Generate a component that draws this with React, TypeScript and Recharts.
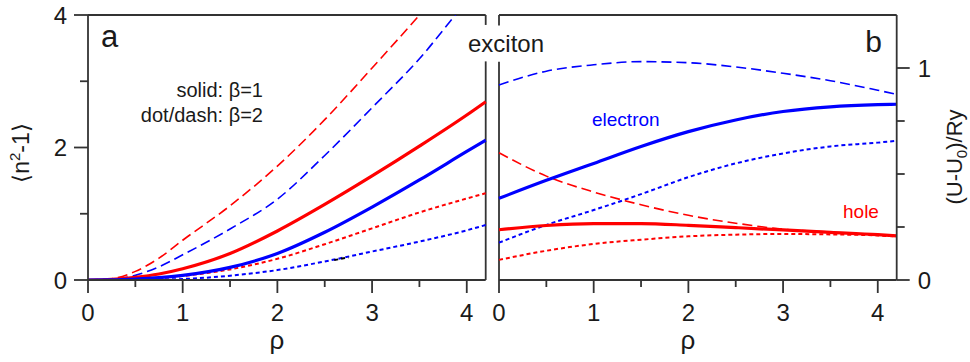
import React from "react";
import { LineChart, Line, XAxis, YAxis, ReferenceLine } from "recharts";

const RED = "#ff0000";
const BLUE = "#0000ff";
const FRAME = "#333333";
const INK = "#1a1a1a";
const FONT = '"Liberation Sans", Arial, Helvetica, sans-serif';

// panel a: <n^2-1> against rho
const rhoA = [0, 0.25, 0.5, 0.75, 1, 1.5, 2, 2.5, 3, 3.5, 4, 4.2];
const aRedSolid = [0, 0.01, 0.04, 0.09, 0.17, 0.4, 0.74, 1.14, 1.57, 2.02, 2.49, 2.69];
const aBlueSolid = [0, 0.003, 0.015, 0.035, 0.07, 0.19, 0.4, 0.72, 1.1, 1.51, 1.94, 2.11];
const aRedDot = [0, 0.002, 0.01, 0.025, 0.06, 0.16, 0.32, 0.54, 0.78, 1.02, 1.23, 1.31];
const aBlueDot = [0, 0, 0.002, 0.006, 0.015, 0.065, 0.15, 0.28, 0.43, 0.58, 0.75, 0.83];
const aRedDash = [0, 0.02, 0.13, 0.33, 0.6, 1.12, 1.72, 2.42, 3.2, 4.0, 4.85, 5.2];
const aBlueDash = [0, 0.01, 0.07, 0.2, 0.38, 0.77, 1.22, 1.88, 2.6, 3.34, 4.2, 4.5];
// little black dotted piece sitting on the blue dotted curve
const aBlackBit = [
  { rho: 2.6, v: 0.3 },
  { rho: 2.75, v: 0.34 },
];

// panel b: (U-U0)/Ry against rho
const rhoB = [0, 0.5, 1, 1.5, 2, 2.5, 3, 3.5, 4, 4.2];
const bBlueDash = [0.92, 0.985, 1.015, 1.03, 1.025, 1.005, 0.975, 0.94, 0.895, 0.876];
const bBlueSolid = [0.385, 0.47, 0.55, 0.63, 0.7, 0.755, 0.795, 0.817, 0.827, 0.829];
const bBlueDot = [0.176, 0.26, 0.33, 0.405, 0.485, 0.55, 0.597, 0.63, 0.648, 0.657];
const bRedDash = [0.6, 0.49, 0.415, 0.355, 0.305, 0.268, 0.24, 0.226, 0.214, 0.208];
const bRedSolid = [0.237, 0.257, 0.266, 0.266, 0.258, 0.247, 0.236, 0.225, 0.214, 0.208];
const bRedDot = [0.095, 0.138, 0.17, 0.19, 0.206, 0.214, 0.217, 0.215, 0.21, 0.205];

const xTicks = [0, 0.5, 1, 1.5, 2, 2.5, 3, 3.5, 4];
const yTicksA = [0, 1, 2, 3, 4];
const yLabelsA = [0, 2, 4];
const yTicksB = [0, 0.25, 0.5, 0.75, 1];
const yLabelsB = [0, 1];

const dataA = rhoA.map((rho, i) => ({
  rho,
  redSolid: aRedSolid[i],
  blueSolid: aBlueSolid[i],
  redDot: aRedDot[i],
  blueDot: aBlueDot[i],
  redDash: aRedDash[i],
  blueDash: aBlueDash[i],
}));

const dataB = rhoB.map((rho, i) => ({
  rho,
  redSolid: bRedSolid[i],
  blueSolid: bBlueSolid[i],
  redDot: bRedDot[i],
  blueDot: bBlueDot[i],
  redDash: bRedDash[i],
  blueDash: bBlueDash[i],
}));

const solid = { strokeWidth: 3.2 };
const dashed = { strokeWidth: 1.6, strokeDasharray: "10 5" };
const dotted = { strokeWidth: 2, strokeDasharray: "4 3" };
const axisStyle = { stroke: FRAME, strokeWidth: 1.8 };

function XTick(props: any) {
  const { x, y, payload } = props;
  const major = Number.isInteger(payload.value);
  return (
    <g>
      <line x1={x} x2={x} y1={y} y2={y + (major ? 13 : 7)} stroke={FRAME} strokeWidth={1.8} />
      {major && (
        <text x={x} y={y + 41} textAnchor="middle" fontSize={24} fontFamily={FONT} fill={INK}>
          {payload.value}
        </text>
      )}
    </g>
  );
}

function YTickLeft(props: any) {
  const { x, y, payload } = props;
  const major = yLabelsA.includes(payload.value);
  return (
    <g>
      <line x1={x - (major ? 14 : 8)} x2={x} y1={y} y2={y} stroke={FRAME} strokeWidth={1.8} />
      {major && (
        <text x={x - 21} y={y + 8.5} textAnchor="end" fontSize={24} fontFamily={FONT} fill={INK}>
          {payload.value}
        </text>
      )}
    </g>
  );
}

function YTickRight(props: any) {
  const { x, y, payload } = props;
  const major = yLabelsB.includes(payload.value);
  return (
    <g>
      <line x1={x} x2={x + (major ? 13 : 8)} y1={y} y2={y} stroke={FRAME} strokeWidth={1.8} />
      {major && (
        <text x={x + 21} y={y + 8.5} textAnchor="start" fontSize={24} fontFamily={FONT} fill={INK}>
          {payload.value}
        </text>
      )}
    </g>
  );
}

function curve(key: string, color: string, style: object) {
  return (
    <Line
      key={key}
      type="monotone"
      dataKey={key}
      stroke={color}
      {...style}
      dot={false}
      activeDot={false}
      isAnimationActive={false}
    />
  );
}

function PanelA() {
  return (
    <LineChart width={500} height={362} data={dataA} margin={{ top: 15, right: 14.3, bottom: 42, left: 28 }}>
      <XAxis
        dataKey="rho"
        type="number"
        domain={[0, 4.2]}
        ticks={xTicks}
        interval={0}
        tick={<XTick />}
        tickSize={0}
        tickMargin={0}
        tickLine={false}
        axisLine={axisStyle}
        height={40}
      />
      <YAxis
        type="number"
        domain={[0, 4]}
        allowDataOverflow
        ticks={yTicksA}
        interval={0}
        tick={<YTickLeft />}
        tickSize={0}
        tickMargin={0}
        tickLine={false}
        axisLine={axisStyle}
        width={60}
      />
      <ReferenceLine y={4} {...axisStyle} />
      <ReferenceLine segment={[{ x: 4.2, y: 0 }, { x: 4.2, y: 3.3 }]} {...axisStyle} />
      <ReferenceLine segment={[{ x: 4.2, y: 3.85 }, { x: 4.2, y: 4 }]} {...axisStyle} />
      {curve("redDot", RED, dotted)}
      {curve("blueDot", BLUE, dotted)}
      <Line
        data={aBlackBit}
        dataKey="v"
        type="linear"
        stroke="#000"
        {...dotted}
        dot={false}
        activeDot={false}
        isAnimationActive={false}
      />
      {curve("redDash", RED, dashed)}
      {curve("blueDash", BLUE, dashed)}
      {curve("redSolid", RED, solid)}
      {curve("blueSolid", BLUE, solid)}
    </LineChart>
  );
}

function PanelB() {
  return (
    <LineChart width={490} height={362} data={dataB} margin={{ top: 15, right: 23.3, bottom: 42, left: 19 }}>
      <XAxis
        dataKey="rho"
        type="number"
        domain={[0, 4.2]}
        ticks={xTicks}
        interval={0}
        tick={<XTick />}
        tickSize={0}
        tickMargin={0}
        tickLine={false}
        axisLine={axisStyle}
        height={40}
      />
      <YAxis
        orientation="right"
        type="number"
        domain={[0, 1.25]}
        ticks={yTicksB}
        interval={0}
        tick={<YTickRight />}
        tickSize={0}
        tickMargin={0}
        tickLine={false}
        axisLine={axisStyle}
        width={50}
      />
      <ReferenceLine y={1.25} {...axisStyle} />
      <ReferenceLine segment={[{ x: 0, y: 0 }, { x: 0, y: 1.03 }]} {...axisStyle} />
      <ReferenceLine segment={[{ x: 0, y: 1.2 }, { x: 0, y: 1.25 }]} {...axisStyle} />
      {curve("redDot", RED, dotted)}
      {curve("blueDot", BLUE, dotted)}
      {curve("redDash", RED, dashed)}
      {curve("blueDash", BLUE, dashed)}
      {curve("redSolid", RED, solid)}
      {curve("blueSolid", BLUE, solid)}
    </LineChart>
  );
}

export default function App() {
  return (
    <div style={{ position: "absolute", left: 0, top: 0, width: 970, height: 362, background: "#fff" }}>
      <div style={{ position: "absolute", left: 0, top: 0 }}>
        <PanelA />
      </div>
      <div style={{ position: "absolute", left: 480, top: 0 }}>
        <PanelB />
      </div>
      <svg
        width={970}
        height={362}
        style={{ position: "absolute", left: 0, top: 0, pointerEvents: "none" }}
        fontFamily={FONT}
        fill={INK}
      >
        <text x={101} y={47} fontSize={31}>a</text>
        <text x={882} y={52} fontSize={30} textAnchor="end">b</text>
        <text x={506} y={52} fontSize={24} textAnchor="middle">exciton</text>
        <text x={263} y={97} fontSize={20} textAnchor="end">solid: β=1</text>
        <text x={263} y={122} fontSize={20} textAnchor="end">dot/dash: β=2</text>
        <text x={592} y={126} fontSize={19} fill={BLUE}>electron</text>
        <text x={843} y={218} fontSize={19} fill={RED}>hole</text>
        <text x={277} y={349} fontSize={26} textAnchor="middle">ρ</text>
        <text x={688} y={349} fontSize={26} textAnchor="middle">ρ</text>
        <text x={29} y={153} fontSize={23} textAnchor="middle" transform="rotate(-90 29 153)">
          ⟨n<tspan fontSize={15} dy={-9}>2</tspan>
          <tspan dy={9}>-1⟩</tspan>
        </text>
        <text x={962} y={157} fontSize={22} textAnchor="middle" transform="rotate(-90 962 157)">
          (U-U<tspan fontSize={15} dy={5}>0</tspan>
          <tspan dy={-5}>)/Ry</tspan>
        </text>
      </svg>
    </div>
  );
}
